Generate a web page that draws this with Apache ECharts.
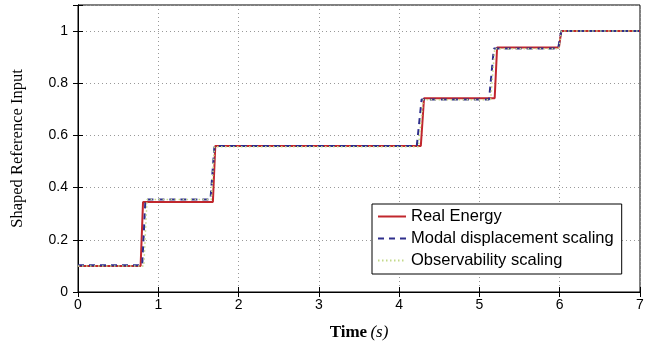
<!DOCTYPE html>
<html>
<head>
<meta charset="utf-8">
<script src="https://cdn.jsdelivr.net/npm/echarts@6/dist/echarts.min.js"></script>
<style>
  html, body { margin: 0; padding: 0; background: #fff; }
  #chart { width: 656px; height: 350px; }
</style>
</head>
<body>
<div id="chart"></div>
<script>
// step profiles (time in s, value)
var realT = [0, 0.78, 0.81, 1.68, 1.71, 4.27, 4.31, 5.19, 5.22, 5.99, 6.02, 7];
var realY = [0.1, 0.1, 0.345, 0.345, 0.56, 0.56, 0.743, 0.743, 0.937, 0.937, 1, 1];
var modalT = [0, 0.8, 0.84, 1.65, 1.7, 4.22, 4.28, 5.12, 5.18, 5.98, 6.02, 7];
var modalY = [0.103, 0.103, 0.355, 0.355, 0.56, 0.56, 0.738, 0.738, 0.933, 0.933, 1, 1];
var obsT = [0, 0.82, 0.86, 1.66, 1.7, 4.24, 4.3, 5.14, 5.19, 5.99, 6.02, 7];
var obsY = [0.1, 0.1, 0.355, 0.355, 0.557, 0.557, 0.737, 0.737, 0.932, 0.932, 1, 1];
var seriesNames = ['Real Energy', 'Modal displacement scaling', 'Observability scaling'];

var pairs = function (t, y) {
  return t.map(function (v, i) { return [v, y[i]]; });
};

var myChart = echarts.init(document.getElementById('chart'));
var sans = 'Liberation Sans';
var serif = 'Liberation Serif';
var option = {
  animation: false,
  grid: { left: 78, right: 16, top: 5, bottom: 58, show: true, borderColor: '#000', borderWidth: 1 },
  legend: {
    left: 372, top: 204,
    orient: 'vertical',
    backgroundColor: '#fff',
    borderColor: '#000',
    borderWidth: 1,
    padding: [4, 8, 5, 5],
    itemGap: 5,
    itemWidth: 28,
    itemHeight: 18,
    itemStyle: { opacity: 0 },
    textStyle: { fontFamily: sans, fontSize: 16.5, color: '#000' },
    data: seriesNames
  },
  xAxis: [{
    type: 'value', min: 0, max: 7, interval: 1,
    name: '{b|Time} {i|(s)}', nameLocation: 'middle', nameGap: 32,
    nameTextStyle: { rich: {
      b: { fontFamily: serif, fontWeight: 'bold', fontSize: 17, color: '#000' },
      i: { fontFamily: serif, fontStyle: 'italic', fontSize: 17, color: '#000' }
    } },
    axisLine: { lineStyle: { color: '#000', width: 1 } },
    axisTick: { inside: true, length: 5, lineStyle: { color: '#000' } },
    axisLabel: { fontFamily: sans, fontSize: 14, color: '#000', margin: 6 },
    splitLine: { show: true, lineStyle: { type: [1, 3], color: '#999' } }
  }, {
    type: 'value', position: 'top', min: 0, max: 7, interval: 1,
    axisLine: { lineStyle: { color: '#000' } },
    axisTick: { inside: true, length: 5, lineStyle: { color: '#000' } },
    axisLabel: { show: false }, splitLine: { show: false }
  }],
  yAxis: [{
    type: 'value', min: 0, max: 1.1, interval: 0.2,
    name: 'Shaped Reference Input', nameLocation: 'middle', nameGap: 52,
    nameTextStyle: { fontFamily: serif, fontSize: 16.5, color: '#000' },
    axisLine: { lineStyle: { color: '#000', width: 1 } },
    axisTick: { inside: true, length: 5, lineStyle: { color: '#000' } },
    axisLabel: {
      fontFamily: sans, fontSize: 14, color: '#000', margin: 10,
      formatter: function (v) { return v > 1.01 ? '' : String(Math.round(v * 10) / 10); }
    },
    splitLine: { show: true, lineStyle: { type: [1, 3], color: '#999' } }
  }, {
    type: 'value', position: 'right', min: 0, max: 1.1, interval: 0.2,
    axisLine: { lineStyle: { color: '#000' } },
    axisTick: { inside: true, length: 5, lineStyle: { color: '#000' } },
    axisLabel: { show: false }, splitLine: { show: false }
  }],
  series: [
    {
      name: seriesNames[0], type: 'line', showSymbol: false, symbol: 'none',
      data: pairs(realT, realY),
      lineStyle: { color: '#c1272d', width: 2 },
      itemStyle: { color: '#c1272d' }
    },
    {
      name: seriesNames[1], type: 'line', showSymbol: false, symbol: 'none',
      data: pairs(modalT, modalY),
      lineStyle: { color: '#2e2e8c', width: 2, type: [6, 5] },
      itemStyle: { color: '#2e2e8c' }
    },
    {
      name: seriesNames[2], type: 'line', showSymbol: false, symbol: 'none',
      data: pairs(obsT, obsY),
      lineStyle: { color: '#c3d98a', width: 1.5, type: [1.5, 2.5] },
      itemStyle: { color: '#c3d98a' }
    }
  ]
};
myChart.setOption(option);
</script>
</body>
</html>
